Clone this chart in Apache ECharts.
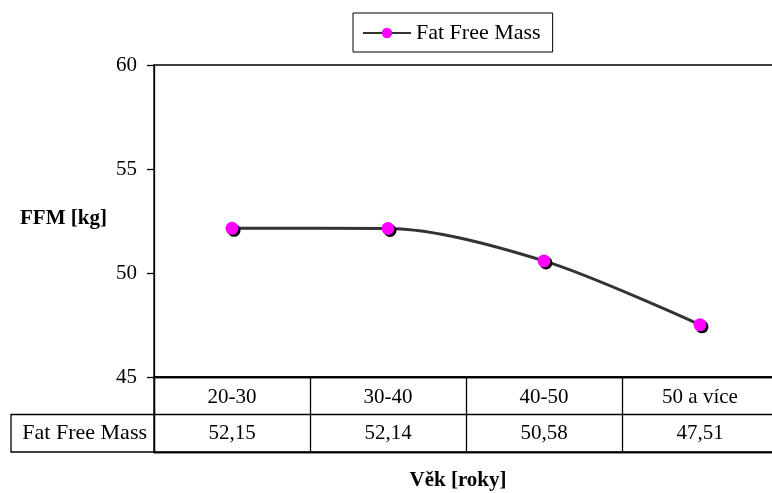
<!DOCTYPE html>
<html>
<head>
<meta charset="utf-8">
<script src="https://cdn.jsdelivr.net/npm/echarts@6/dist/echarts.min.js"></script>
<style>
  html, body { margin: 0; padding: 0; background: #fff; }
  #chart { width: 772px; height: 493px; }
</style>
</head>
<body>
<div id="chart"></div>
<script>
// Age groups and mean fat-free mass per group
const categories = ['20-30', '30-40', '40-50', '50 a více'];
const ffmValues = [52.15, 52.14, 50.58, 47.51];
const seriesName = 'Fat Free Mass';
const yTicks = { min: 45, max: 60, step: 5 };

const SERIF = '"Liberation Serif", "Times New Roman", serif';
const fmt = v => v.toFixed(2).replace('.', ',');

const chart = echarts.init(document.getElementById('chart'), null, { renderer: 'canvas' });

chart.setOption({
  animation: false,
  backgroundColor: '#fff',
  textStyle: { fontFamily: SERIF, color: '#000' },
  legend: {
    left: 353,
    top: 13,
    padding: [9, 12, 8, 9],
    borderColor: '#000',
    borderWidth: 1,
    itemWidth: 48,
    itemHeight: 13,
    itemGap: 5,
    selectedMode: false,
    textStyle: { fontFamily: SERIF, fontSize: 22, color: '#000' },
    data: [seriesName]
  },
  grid: [
    { left: 154, top: 65, width: 624, height: 312, outerBoundsMode: 'none', containLabel: false,
      show: true, borderColor: '#000', borderWidth: 1.3, backgroundColor: 'transparent' },
    { left: 154, top: 377, width: 624, height: 75, outerBoundsMode: 'none', containLabel: false,
      show: true, borderColor: '#000', borderWidth: 1.3, backgroundColor: 'transparent' }
  ],
  xAxis: [
    {
      gridIndex: 0,
      type: 'category',
      data: categories,
      boundaryGap: true,
      axisLine: { lineStyle: { color: '#000', width: 1.3 } },
      axisTick: { show: false },
      axisLabel: { margin: 10, fontFamily: SERIF, fontSize: 21, color: '#000' },
      splitLine: { show: false }
    },
    {
      gridIndex: 1,
      type: 'category',
      data: categories,
      boundaryGap: true,
      axisLine: { lineStyle: { color: '#000', width: 1.3 } },
      axisTick: { show: false },
      axisLabel: { show: false },
      splitLine: { show: true, lineStyle: { color: '#000', width: 1.3 } }
    }
  ],
  yAxis: [
    {
      gridIndex: 0,
      type: 'value',
      min: yTicks.min,
      max: yTicks.max,
      interval: yTicks.step,
      axisLine: { show: true, lineStyle: { color: '#000', width: 1.3 } },
      axisTick: { show: true, length: 7, lineStyle: { color: '#000', width: 1.3 } },
      axisLabel: { margin: 17, fontFamily: SERIF, fontSize: 21, color: '#000' },
      splitLine: { show: false }
    },
    {
      gridIndex: 1,
      type: 'category',
      data: [seriesName, ''],
      boundaryGap: true,
      axisLine: { show: true, lineStyle: { color: '#000', width: 1.3 } },
      axisTick: { show: false },
      axisLabel: { margin: 7, fontFamily: SERIF, fontSize: 22, color: '#000' },
      splitLine: { show: true, lineStyle: { color: '#000', width: 1.3 } }
    }
  ],
  graphic: [
    {
      type: 'polyline',
      shape: { points: [[154, 414.5], [11, 414.5], [11, 452], [154, 452]] },
      style: { stroke: '#000', lineWidth: 1.3, fill: null }
    },
    {
      type: 'text',
      x: 20,
      y: 219,
      style: { text: 'FFM [kg]', font: 'bold 21px ' + SERIF, fill: '#000', align: 'left', verticalAlign: 'middle' }
    },
    {
      type: 'text',
      x: 458,
      y: 481,
      style: { text: 'Věk [roky]', font: 'bold 21px ' + SERIF, fill: '#000', align: 'center', verticalAlign: 'middle' }
    }
  ],
  series: [
    {
      name: seriesName,
      type: 'line',
      xAxisIndex: 0,
      yAxisIndex: 0,
      data: ffmValues,
      smooth: 0.3,
      symbol: 'circle',
      symbolSize: 13,
      lineStyle: { color: '#333', width: 3 },
      itemStyle: {
        color: '#ff00ff',
        shadowColor: '#000',
        shadowBlur: 0,
        shadowOffsetX: 2,
        shadowOffsetY: 2
      },
      emphasis: { disabled: true },
      z: 3
    },
    {
      // value row of the data table under the plot
      name: 'table',
      type: 'custom',
      xAxisIndex: 1,
      yAxisIndex: 1,
      silent: true,
      data: ffmValues.map((v, i) => [i, 0, v]),
      renderItem: (params, api) => {
        const p = api.coord([api.value(0), api.value(1)]);
        return {
          type: 'text',
          style: {
            text: fmt(api.value(2)),
            x: p[0],
            y: p[1],
            align: 'center',
            verticalAlign: 'middle',
            font: '21px ' + SERIF,
            fill: '#000'
          }
        };
      }
    }
  ]
});
</script>
</body>
</html>
